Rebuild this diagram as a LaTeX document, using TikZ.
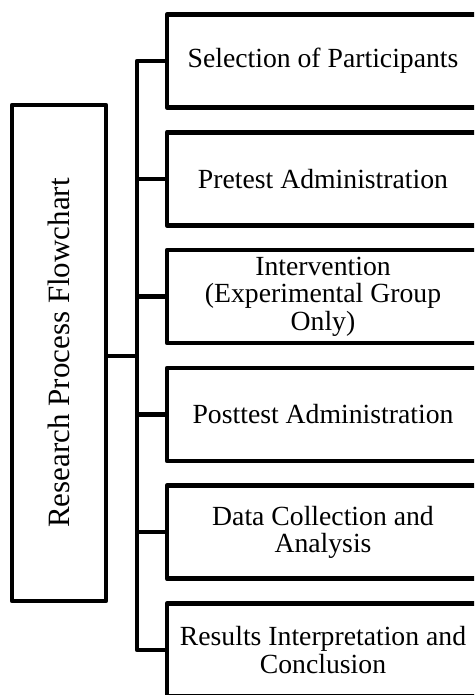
\documentclass[tikz,border=0pt]{standalone}
\usepackage{fontspec}
\setmainfont{Liberation Serif}
\begin{document}
\begin{tikzpicture}[x=1pt,y=-1pt,line width=4.5pt,line join=round,
  stepbox/.style={draw,outer sep=0pt,inner sep=0pt,minimum width=312pt,minimum height=93pt,
    align=center,anchor=north west,font=\fontsize{27.7}{27.5}\selectfont},
  titlebox/.style={draw,outer sep=0pt,inner sep=0pt,minimum width=94pt,minimum height=496pt,
    anchor=north west,font=\fontsize{31}{33}\selectfont},
  link/.style={draw,line width=4.5pt}]
\useasboundingbox (0,0) rectangle (474,695);
\clip (0,0) rectangle (474,695);
\node[titlebox] (lbox) at (12,105) {\rotatebox{90}{Research Process Flowchart}};
\node[stepbox] (b1) at (167,14.5) {Selection of Participants};
\node[stepbox] (b2) at (167,132.3) {Pretest Administration};
\node[stepbox] (b3) at (167,250.1) {Intervention\\(Experimental Group\\Only)};
\node[stepbox] (b4) at (167,367.9) {Posttest Administration};
\node[stepbox] (b5) at (167,485.7) {Data Collection and\\Analysis};
\node[stepbox] (b6) at (167,603.5) {Results Interpretation and\\Conclusion};
\coordinate (bus) at (137,356);
\draw[link] (b1.west) -- (b1.west -| bus) -- (b6.west -| bus) -- (b6.west);
\draw[link] (b2.west) -- (b2.west -| bus);
\draw[link] (b3.west) -- (b3.west -| bus);
\draw[link] (b4.west) -- (b4.west -| bus);
\draw[link] (b5.west) -- (b5.west -| bus);
\draw[link] (lbox.east |- bus) -- (bus);
\end{tikzpicture}
\end{document}
